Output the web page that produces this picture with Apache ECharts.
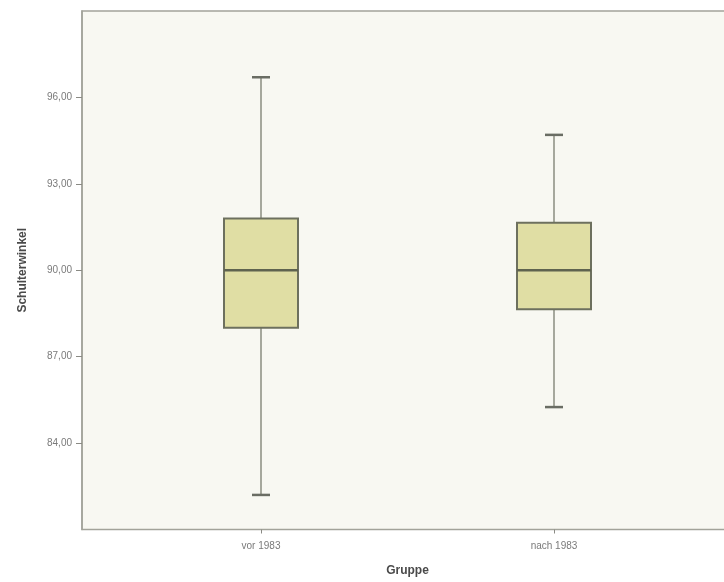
<!DOCTYPE html>
<html>
<head>
<meta charset="utf-8">
<script src="https://cdn.jsdelivr.net/npm/echarts@6/dist/echarts.min.js"></script>
<style>html,body{margin:0;padding:0;background:#fff}#c{width:724px;height:582px}</style>
</head>
<body>
<div id="c"></div>
<script>
const categories = ['vor 1983', 'nach 1983'];
const minVals = [82.2, 85.25];
const q1Vals = [88.0, 88.65];
const medianVals = [90.0, 90.0];
const q3Vals = [91.8, 91.65];
const maxVals = [96.7, 94.7];
const yTicks = [84, 87, 90, 93, 96];

const boxData = categories.map((c, i) => [i, minVals[i], q1Vals[i], medianVals[i], q3Vals[i], maxVals[i]]);

const chart = echarts.init(document.getElementById('c'));
const fmt = v => v.toFixed(2).replace('.', ',');

chart.setOption({
  animation: false,
  backgroundColor: '#ffffff',
  grid: [
    {left: 82, top: 11, width: 700, height: 518.5, show: true, backgroundColor: '#f8f8f2', borderColor: '#a2a39a', borderWidth: 1.5, outerBoundsMode: 'none', containLabel: false},
    {left: 114.5, top: 11, width: 586, height: 518.5, outerBoundsMode: 'none', containLabel: false}
  ],
  xAxis: [
    {gridIndex: 0, type: 'value', show: false, min: 0, max: 1},
    {gridIndex: 1, type: 'category', data: categories,
      axisLine: {show: false},
      axisTick: {show: true, alignWithLabel: true, length: 4, lineStyle: {color: '#8a8a84', width: 1}},
      axisLabel: {color: '#7a7a7a', fontSize: 10, fontFamily: 'Liberation Sans, Arial', margin: 12},
      name: 'Gruppe', nameLocation: 'middle', nameGap: 35,
      nameTextStyle: {color: '#4a4a4a', fontSize: 12, fontWeight: 'bold', fontFamily: 'Liberation Sans, Arial'}
    }
  ],
  yAxis: [
    {gridIndex: 0, type: 'value', min: 81, max: 99, interval: 3,
      axisLine: {show: true, lineStyle: {color: '#a2a39a', width: 1.5}},
      axisTick: {show: true, length: 6, customValues: yTicks, lineStyle: {color: '#8a8a84'}},
      axisLabel: {customValues: yTicks, formatter: fmt, color: '#7a7a7a', fontSize: 10, fontFamily: 'Liberation Sans, Arial', margin: 10},
      splitLine: {show: false},
      name: 'Schulterwinkel', nameLocation: 'middle', nameGap: 53,
      nameTextStyle: {color: '#4a4a4a', fontSize: 12, fontWeight: 'bold', fontFamily: 'Liberation Sans, Arial'}
    },
    {gridIndex: 1, type: 'value', min: 81, max: 99, show: false}
  ],
  series: [{
    type: 'custom',
    xAxisIndex: 1, yAxisIndex: 1,
    data: boxData,
    encode: {x: 0, y: [1, 2, 3, 4, 5]},
    renderItem: function (params, api) {
      const i = api.value(0);
      const pMin = api.coord([i, api.value(1)]);
      const pQ1 = api.coord([i, api.value(2)]);
      const pMed = api.coord([i, api.value(3)]);
      const pQ3 = api.coord([i, api.value(4)]);
      const pMax = api.coord([i, api.value(5)]);
      const bw = 74, cw = 18, x = pMed[0];
      const stroke = '#6d705e';
      const wh = '#8b8e80';
      return {
        type: 'group',
        children: [
          {type: 'line', shape: {x1: x, y1: pMax[1], x2: x, y2: pQ3[1]}, style: {stroke: wh, lineWidth: 1.5}},
          {type: 'line', shape: {x1: x, y1: pQ1[1], x2: x, y2: pMin[1]}, style: {stroke: wh, lineWidth: 1.5}},
          {type: 'line', shape: {x1: x - cw / 2, y1: pMax[1], x2: x + cw / 2, y2: pMax[1]}, style: {stroke: '#6a6d64', lineWidth: 2.5}},
          {type: 'line', shape: {x1: x - cw / 2, y1: pMin[1], x2: x + cw / 2, y2: pMin[1]}, style: {stroke: '#6a6d64', lineWidth: 2.5}},
          {type: 'rect', shape: {x: x - bw / 2, y: pQ3[1], width: bw, height: pQ1[1] - pQ3[1]}, style: {fill: '#e0dea4', stroke: stroke, lineWidth: 2}},
          {type: 'line', shape: {x1: x - bw / 2, y1: pMed[1], x2: x + bw / 2, y2: pMed[1]}, style: {stroke: '#5f634f', lineWidth: 2.5}}
        ]
      };
    }
  }]
});
</script>
</body>
</html>
